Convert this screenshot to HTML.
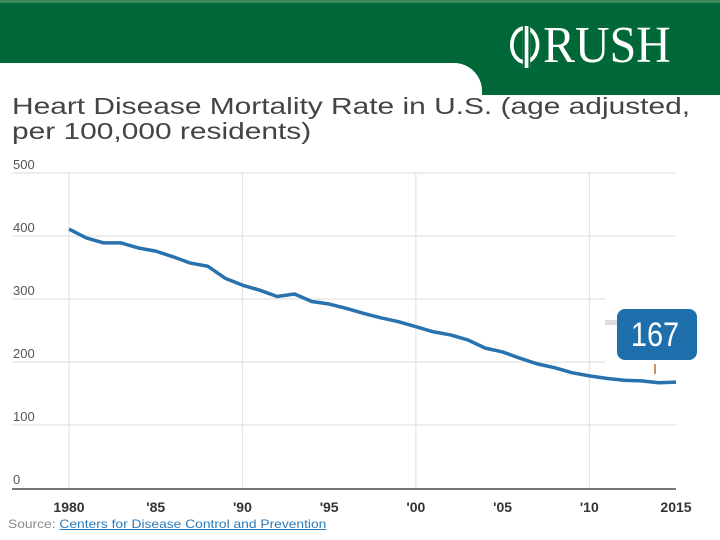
<!DOCTYPE html>
<html><head><meta charset="utf-8"><style>
body{margin:0;width:720px;height:540px;overflow:hidden;background:#fff;font-family:"Liberation Sans",sans-serif;position:relative}
.abs{position:absolute}
</style></head><body>
<div class="abs" style="left:0;top:0;width:720px;height:95px;background:#006838;border-top:3px solid #3a8a5e;box-sizing:border-box"></div>
<div class="abs" style="left:0;top:63px;width:482px;height:40px;background:#fff;border-top-right-radius:28px"></div>
<div class="abs" style="left:510px;top:18px;color:#fff;font-family:'Liberation Serif',serif;font-size:52px;line-height:56px;white-space:nowrap;transform:scaleX(0.92);transform-origin:left top">
<span style="display:inline-block;width:32px;height:38px;border:4px solid #fff;border-radius:50%;box-sizing:border-box;vertical-align:-2px;position:relative;margin-right:4px"><span style="position:absolute;left:10px;top:-4px;width:4px;height:42px;background:#fff;border-left:2px solid #006838;border-right:2px solid #006838"></span></span>RUSH</div>
<div class="abs" style="left:12px;top:94px;font-size:23px;line-height:25px;color:#444;white-space:nowrap;transform:scaleX(1.3);transform-origin:left top">Heart Disease Mortality Rate in U.S. (age adjusted,<br>per 100,000 residents)</div>
<svg class="abs" style="left:0;top:0" width="720" height="540">
<g id="grid"></g><g id="marks"></g>
<rect x="605" y="320" width="14" height="5" fill="#ddd"/>
<rect x="617" y="309" width="80" height="51" rx="8" fill="#1f6fad"/>
<text x="655" y="346" text-anchor="middle" fill="#fff" font-size="34" font-family="Liberation Sans Narrow, Liberation Sans" transform="translate(655,0) scale(0.85,1) translate(-655,0)">167</text>
<rect x="654" y="364" width="2" height="10" fill="#c8926a"/>
</svg>
<div class="abs" style="left:8px;top:517px;font-size:12px;color:#888;transform:scaleX(1.15);transform-origin:left top;white-space:nowrap">Source: <span style="color:#2a7ab8;text-decoration:underline">Centers for Disease Control and Prevention</span></div>
<script>
const years=[1980,1981,1982,1983,1984,1985,1986,1987,1988,1989,1990,1991,1992,1993,1994,1995,1996,1997,1998,1999,2000,2001,2002,2003,2004,2005,2006,2007,2008,2009,2010,2011,2012,2013,2014,2015];
const rates=[411,397,389,389,381,376,367,357,352,333,322,314,304,308,296,292,285,277,270,264,256,248,243,235,222,216,206,197,191,183,178,174,171,170,167,168];
const yTicks=[0,100,200,300,400,500];
const xTicks=[1980,1985,1990,1995,2000,2005,2010,2015];
const xTickLabels=["1980","'85","'90","'95","'00","'05","'10","2015"];
const vGrid=[1980,1990,2000,2010];
const NS="http://www.w3.org/2000/svg";
const x=v=>69+(v-1980)*(676-69)/35;
const y=v=>488-v*0.63;
const g=document.getElementById('grid'),m=document.getElementById('marks');
function el(t,a,p){const e=document.createElementNS(NS,t);for(const k in a)e.setAttribute(k,a[k]);p.appendChild(e);return e;}
yTicks.forEach(t=>{
 if(t>0){const l=el('line',{x1:12,x2:(t==200||t==300)?605:676,y1:y(t),y2:y(t),stroke:'#e2e2e2','stroke-width':1.2},g);
 
 }
 const tx=el('text',{x:13,y:y(t)-4,'font-size':13,fill:'#555','font-family':'Liberation Sans'},g);tx.textContent=t;
 
 
});
vGrid.forEach(t=>{const l=el('line',{x1:x(t),x2:x(t),y1:y(500),y2:y(0),stroke:'#e2e2e2','stroke-width':1.2},g);
 
 });
const b=el('line',{x1:12,x2:676,y1:y(0)+1,y2:y(0)+1,stroke:'#777','stroke-width':2},g);


xTicks.forEach((t,i)=>{const tx=el('text',{x:x(t),y:512,'text-anchor':'middle','font-size':14,'font-weight':'bold',fill:'#333','font-family':'Liberation Sans'},g);tx.textContent=xTickLabels[i];
 
 });
const p=el('polyline',{points:years.map((yr,i)=>x(yr)+','+y(rates[i])).join(' '),fill:'none',stroke:'#2a72ad','stroke-width':3.5,'stroke-linejoin':'round'},m);


</script>
</body></html>
